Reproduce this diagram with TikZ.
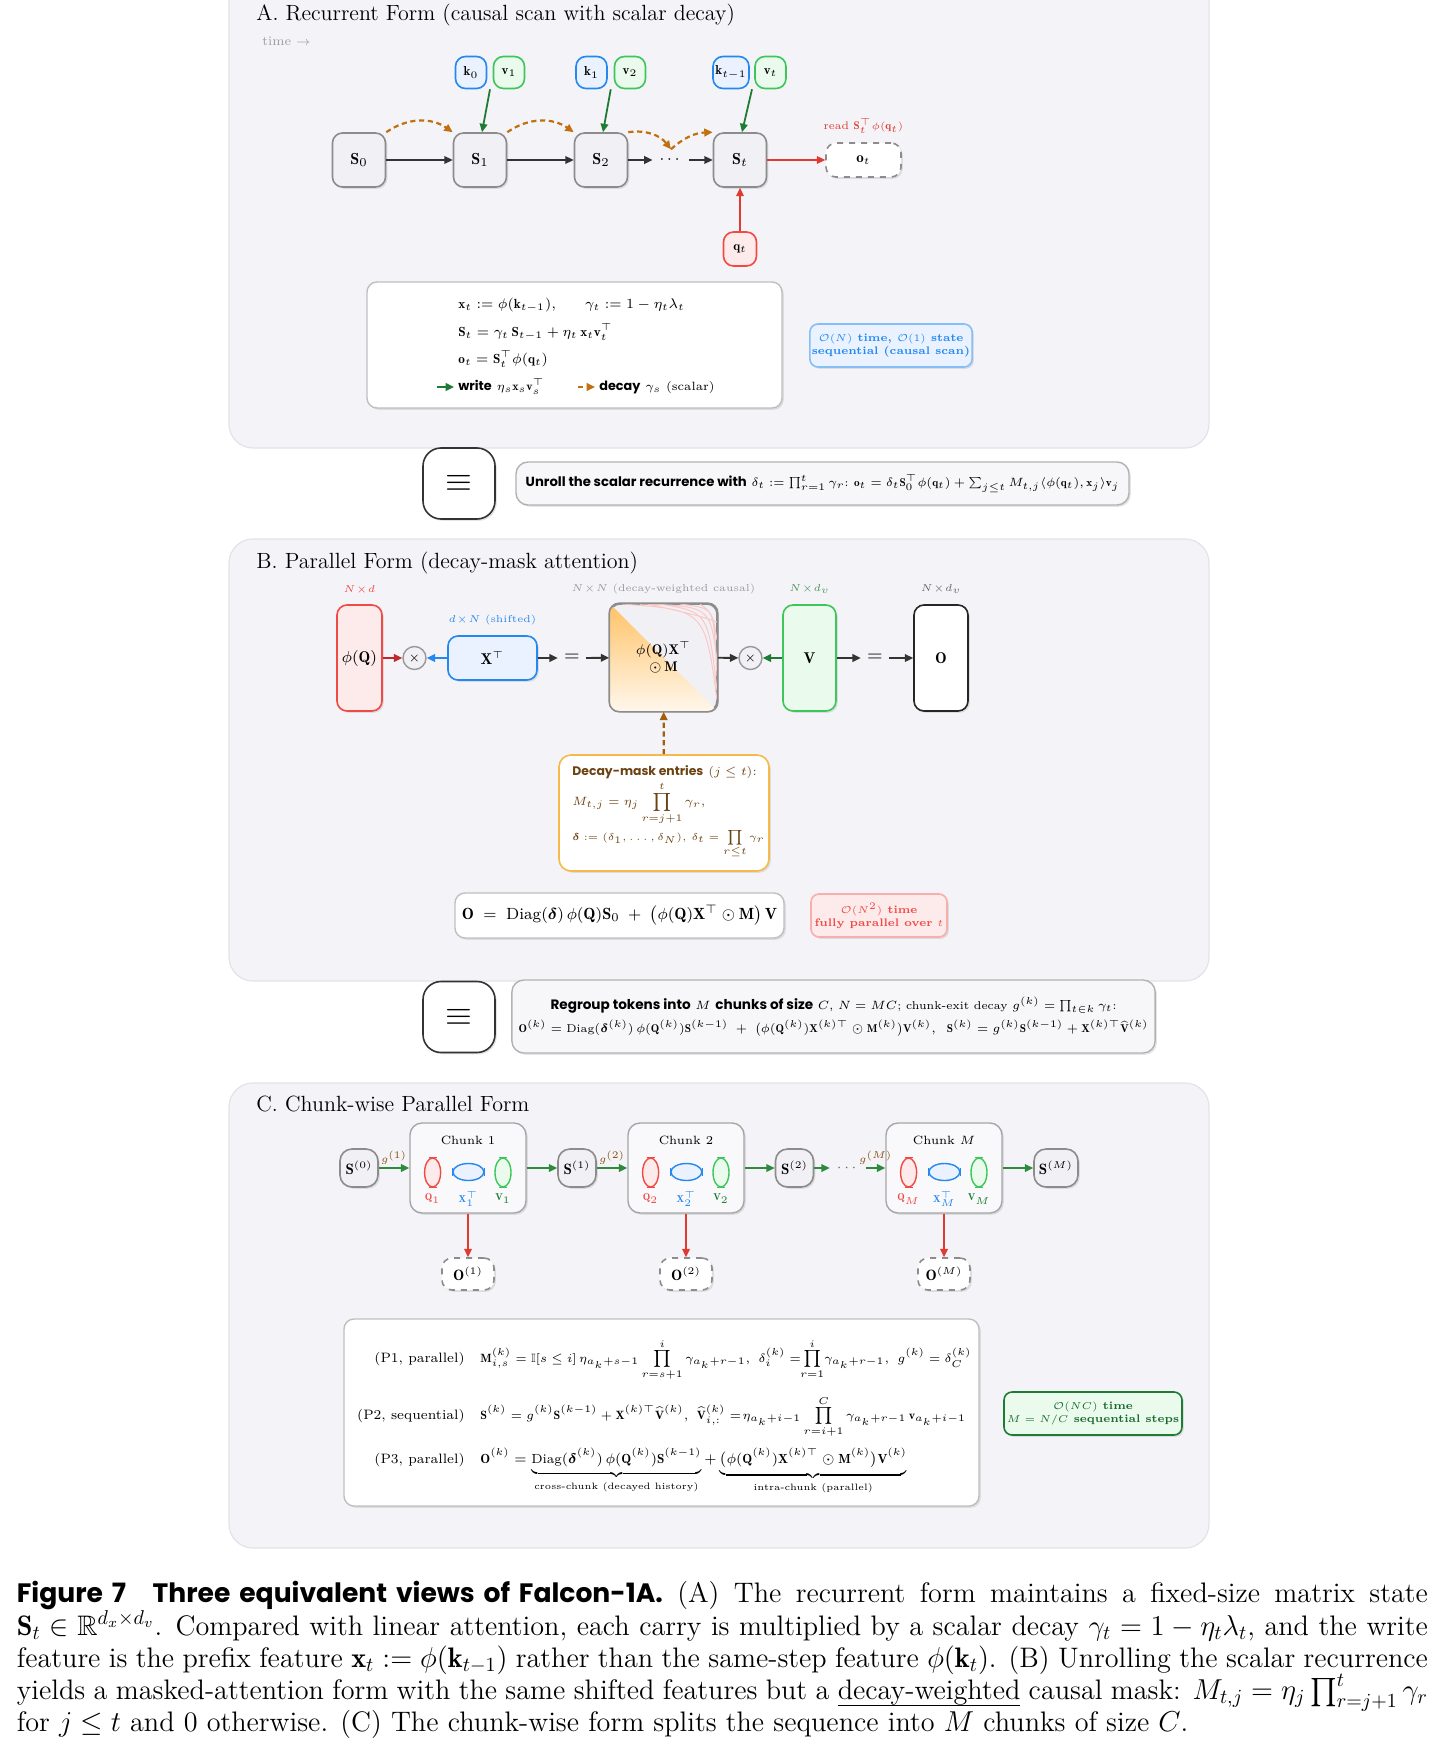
\documentclass[tikz,border=0pt]{standalone}
\usepackage{amsmath}
\usepackage{amssymb}
\usepackage{xcolor}
\usepackage{fontspec}
\newfontfamily\popfont{Poppins}
\usepackage{tikz}
\usetikzlibrary{positioning,calc,shapes.geometric,shadows,arrows.meta}

\definecolor{panelbg}{HTML}{F4F4F8}
\definecolor{panelline}{HTML}{E2E2E9}
\definecolor{stfill}{HTML}{F1F1F5}
\definecolor{stline}{HTML}{8C8C8C}
\definecolor{kblue}{HTML}{2388F0}
\definecolor{kfill}{HTML}{E9F2FE}
\definecolor{vgreen}{HTML}{3DC65A}
\definecolor{vfill}{HTML}{EAFAEC}
\definecolor{qred}{HTML}{F04A45}
\definecolor{qfill}{HTML}{FDEAEA}
\definecolor{wgreen}{HTML}{1E7B34}
\definecolor{ogrn}{HTML}{2E8B3E}
\definecolor{rred}{HTML}{E03B30}
\definecolor{dred}{HTML}{C0282D}
\definecolor{decor}{HTML}{C0700F}
\definecolor{decline}{HTML}{F6B94C}
\definecolor{mbrown}{HTML}{6B4312}
\definecolor{maskor}{HTML}{FFC266}
\definecolor{arrgray}{HTML}{333333}

\newcommand\fsz[2]{\fontsize{#1}{#2}\selectfont}
\newcommand\capfont{\fsz{14.1}{16.15}\lineskiplimit=-20pt\relax}

\begin{document}
\begin{tikzpicture}[x=0.5pt,y=-0.5pt,
  softshadow/.style={drop shadow={opacity=0.2,shadow xshift=0.9pt,shadow yshift=-0.9pt}},
  panel/.style={draw=panelline,fill=panelbg,rounded corners=12pt,line width=0.6pt},
  ttl/.style={anchor=base west,inner sep=0pt,font=\fsz{11}{13}},
  stnode/.style={draw=stline,fill=stfill,rounded corners=5pt,line width=0.8pt,minimum width=26.5pt,minimum height=27pt,inner sep=1pt,font=\fsz{8}{9},softshadow},
  pill/.style={rounded corners=5pt,line width=0.8pt,minimum width=15.5pt,minimum height=16pt,inner sep=1pt,font=\fsz{6.5}{7}},
  keynd/.style={pill,draw=kblue,fill=kfill},
  valnd/.style={pill,draw=vgreen,fill=vfill},
  qnd/.style={pill,draw=qred,fill=qfill,minimum width=16.5pt,minimum height=17pt},
  outnd/.style={draw=black!45,dashed,fill=white,rounded corners=5pt,line width=0.8pt,inner sep=1pt,softshadow},
  arr/.style={-{Triangle[length=4.2pt,width=3.8pt]},line width=0.9pt},
  decayarr/.style={arr,draw=decor,line width=1.1pt,dash pattern=on 2.6pt off 1.8pt},
  eqbox/.style={draw=black!25,fill=white,rounded corners=5pt,line width=0.7pt,softshadow},
  eqtxt/.style={anchor=west,inner sep=0pt,font=\fsz{6.6}{7.5}},
  cplx/.style={rounded corners=4pt,line width=0.8pt,minimum width=81pt,minimum height=21.5pt,align=center,inner sep=1pt,font=\fsz{5.5}{6.4}\bfseries,softshadow},
  equiv/.style={draw=black!80,fill=white,rounded corners=9pt,line width=0.8pt,minimum width=36pt,minimum height=35.5pt,font=\fsz{17}{17},softshadow},
  bridge/.style={draw=black!30,fill=stfill!60,rounded corners=6pt,line width=0.7pt,softshadow,font=\fsz{5.6}{7.5}},
  mat/.style={rounded corners=5pt,line width=0.8pt,inner sep=1pt,font=\fsz{7.8}{9},softshadow},
  mulnd/.style={circle,draw=black!40,fill=stfill,line width=0.7pt,minimum size=11.5pt,inner sep=0pt,font=\fsz{6}{6}},
  eqsign/.style={inner sep=3pt,font=\fsz{10}{10}},
  dimlbl/.style={inner sep=1pt,font=\fsz{5}{6}},
  dbtxt/.style={anchor=base west,inner sep=0pt,text=mbrown,font=\fsz{6.4}{7}},
  cstate/.style={stnode,minimum width=19pt,minimum height=19pt,rounded corners=6pt,font=\fsz{7.5}{8}},
  chunk/.style={draw=black!35,fill=white!60!stfill,rounded corners=6pt,line width=0.7pt,minimum width=58pt,minimum height=45pt,softshadow},
  chunkttl/.style={inner sep=0pt,font=\fsz{6}{7}},
  tens/.style={ellipse,line width=0.7pt,inner sep=0pt},
  tlbl/.style={inner sep=0pt,font=\fsz{5}{6}},
  carr/.style={arr,draw=ogrn},
  gl/.style={above,inner sep=1.5pt,font=\fsz{4.5}{5},text=decor!70!black},
  plbl/.style={anchor=base east,inner sep=0pt,font=\fsz{6.8}{8}},
  peq/.style={anchor=base west,inner sep=0pt,font=\fsz{6}{8}}]

\useasboundingbox (0,0) rectangle (1443,1755);
\fill[white] (0,0) rectangle (1443,1755);

\draw[panel] (229,-30) rectangle (1209,448);
\node[ttl] (ttlA) at (256,21) {A.\ Recurrent Form (causal scan with scalar decay)};
\node[anchor=base west,inner sep=0pt,font=\fsz{6.5}{7},text=black!38] (timeA) at (262,46) {time $\rightarrow$};

\node[stnode] (S0) at (359,160) {$\mathbf{S}_0$};
\node[stnode] (S1) at (480,160) {$\mathbf{S}_1$};
\node[stnode] (S2) at (601,160) {$\mathbf{S}_2$};
\node[font=\fsz{8}{9}] (dA) at (671,160) {$\cdots$};
\node[stnode] (St) at (740,160) {$\mathbf{S}_t$};
\node[outnd,minimum width=37.5pt,minimum height=17pt,font=\fsz{7.5}{8}] (ot) at (863.5,160) {$\mathbf{o}_t$};
\node[above=3pt of ot,inner sep=1pt,font=\fsz{5.5}{6},text=rred] (rdA) {read $\mathbf{S}_t^{\top}\phi(\mathbf{q}_t)$};

\node[keynd] (k0) at (471,72.5) {$\mathbf{k}_0$};
\node[valnd] (v1) at (509,72.5) {$\mathbf{v}_1$};
\node[keynd] (k1) at (591.5,72.5) {$\mathbf{k}_1$};
\node[valnd] (v2) at (630,72.5) {$\mathbf{v}_2$};
\node[keynd,minimum width=18pt] (kt) at (731,72.5) {$\mathbf{k}_{t-1}$};
\node[valnd] (vt) at (770.5,72.5) {$\mathbf{v}_t$};
\node[qnd] (qt) at (740,249) {$\mathbf{q}_t$};

\draw[arr,draw=arrgray] (S0) -- (S1);
\draw[arr,draw=arrgray] (S1) -- (S2);
\draw[arr,draw=arrgray] (S2) -- (dA);
\draw[arr,draw=arrgray] (dA) -- (St);
\draw[arr,draw=rred] (St) -- (ot);
\draw[arr,draw=rred] (qt) -- (St);
\draw[arr,draw=wgreen] ($(k0.south east)!0.5!(v1.south west)$) -- ([xshift=1pt]S1.north);
\draw[arr,draw=wgreen] ($(k1.south east)!0.5!(v2.south west)$) -- ([xshift=1pt]S2.north);
\draw[arr,draw=wgreen] ($(kt.south east)!0.5!(vt.south west)$) -- ([xshift=1pt]St.north);
\draw[decayarr] (S0.north east) to[bend left=35] (S1.north west);
\draw[decayarr] (S1.north east) to[bend left=35] (S2.north west);
\draw[decayarr] (S2.north east) to[bend left=30] (dA.north);
\draw[decayarr] (dA.north) to[bend left=20] (St.north west);

\node[eqbox,minimum width=207.5pt,minimum height=63pt] (eqA) at (574.5,345) {};
\node[eqtxt] (eqA1) at (458,305) {$\mathbf{x}_t := \phi(\mathbf{k}_{t-1}),\qquad \gamma_t := 1-\eta_t\lambda_t$};
\node[eqtxt] (eqA2) at (458,332) {$\mathbf{S}_t = \gamma_t\,\mathbf{S}_{t-1} + \eta_t\,\mathbf{x}_t\mathbf{v}_t^{\top}$};
\node[eqtxt] (eqA3) at (458,359) {$\mathbf{o}_t = \mathbf{S}_t^{\top}\phi(\mathbf{q}_t)$};
\coordinate (lgw0) at (437,387);
\coordinate (lgw1) at (454,387);
\draw[arr,draw=wgreen] (lgw0) -- (lgw1);
\node[eqtxt,font=\fsz{6}{7}] (lgwt) at (458,387) {{\popfont\bfseries\fsz{6.4}{7}write} $\eta_s\mathbf{x}_s\mathbf{v}_s^{\top}$};
\coordinate (lgd0) at (578,387);
\coordinate (lgd1) at (595,387);
\draw[decayarr] (lgd0) -- (lgd1);
\node[eqtxt,font=\fsz{6}{7}] (lgdt) at (599,387) {{\popfont\bfseries\fsz{6.4}{7}decay} $\gamma_s$ (scalar)};

\node[cplx,draw=kblue!55,fill=kfill,text=kblue] (cxA) at (891,345.5) {$\mathcal{O}(N)$ time, $\mathcal{O}(1)$ state\\sequential (causal scan)};

\node[equiv] (eqvA) at (459,483.5) {$\equiv$};
\node[bridge,minimum width=306.5pt,minimum height=21.5pt] (unr) at (822.5,483.5) {{\popfont\bfseries\fsz{6.6}{7.5}Unroll the scalar recurrence with} $\delta_t := \prod_{r=1}^{t}\gamma_r$:\enspace $\mathbf{o}_t = \delta_t\mathbf{S}_0^{\top}\phi(\mathbf{q}_t) + \sum_{j\le t} M_{t,j}\langle\phi(\mathbf{q}_t),\mathbf{x}_j\rangle\mathbf{v}_j$};

\draw[panel] (229,539) rectangle (1209,981);
\node[ttl] (ttlB) at (256,568) {B.\ Parallel Form (decay-mask attention)};

\node[mat,draw=qred,fill=qfill,minimum width=22.5pt,minimum height=53pt] (phiQ) at (359.5,658) {$\phi(\mathbf{Q})$};
\node[mulnd] (mul1) at (414.5,658) {$\times$};
\node[mat,draw=kblue,fill=kfill,minimum width=44.5pt,minimum height=22pt] (XT) at (492.5,658) {$\mathbf{X}^{\top}$};
\node[eqsign] (eq1) at (572,658) {$=$};
\node[mat,draw=black!45,fill=stfill,minimum width=53.5pt,minimum height=53.5pt] (mask) at (663.5,657.5) {};
\begin{scope}
\clip[rounded corners=5pt] (mask.north west) rectangle (mask.south east);
\shade[top color=maskor,bottom color=maskor!12] (mask.north west) -- (mask.south east) -- (mask.south west) -- cycle;
\draw[qred!30,line width=0.5pt] (622,604) .. controls (705,610) .. (717,700)
  (640,604) .. controls (710,606) .. (717,660)
  (660,604) .. controls (708,612) .. (717,690)
  (680,604) .. controls (712,608) .. (717,640)
  (700,604) .. controls (714,614) .. (717,676)
  (648,604) .. controls (700,616) .. (717,622);
\end{scope}
\draw[black!45,line width=0.8pt,rounded corners=5pt] (mask.north west) rectangle (mask.south east);
\node[font=\fsz{7}{8.5},align=center,inner sep=0pt] (maskt) at (mask.center) {$\phi(\mathbf{Q})\mathbf{X}^{\top}$\\$\odot\,\mathbf{M}$};
\node[mulnd] (mul2) at (750.5,658) {$\times$};
\node[mat,draw=vgreen,fill=vfill,minimum width=26.5pt,minimum height=53pt] (Vn) at (809.5,658) {$\mathbf{V}$};
\node[eqsign] (eq2) at (875,658) {$=$};
\node[mat,draw=black!85,fill=white,minimum width=27pt,minimum height=53pt] (On) at (941,658) {$\mathbf{O}$};

\node[dimlbl,text=qred,above=4pt of phiQ] (dQ) {$N\!\times\! d$};
\node[dimlbl,text=kblue,above=4pt of XT] (dX) {$d\!\times\! N$ (shifted)};
\node[dimlbl,text=black!40,above=3.5pt of mask] (dM) {$N\!\times\! N$ (decay-weighted causal)};
\node[dimlbl,text=wgreen!80,above=4pt of Vn] (dV) {$N\!\times\! d_v$};
\node[dimlbl,text=black!60,above=4pt of On] (dO) {$N\!\times\! d_v$};

\draw[arr,draw=dred] (phiQ) -- (mul1);
\draw[arr,draw=kblue] (XT) -- (mul1);
\draw[arr,draw=arrgray] (XT) -- (eq1);
\draw[arr,draw=arrgray] (eq1) -- (mask);
\draw[arr,draw=arrgray] (mask) -- (mul2);
\draw[arr,draw=wgreen] (Vn) -- (mul2);
\draw[arr,draw=arrgray] (Vn) -- (eq2);
\draw[arr,draw=arrgray] (eq2) -- (On);

\node[draw=decline,fill=white,rounded corners=6pt,line width=0.8pt,minimum width=105pt,minimum height=58pt,softshadow] (dbox) at (664,813) {};
\node[dbtxt,font=\fsz{6}{7}] (db1) at (572,775) {{\popfont\bfseries\fsz{6.2}{7}Decay-mask entries} $(j\le t)$:};
\node[dbtxt] (db2) at (572,805) {$M_{t,j} = \eta_j\displaystyle\prod_{r=j+1}^{t}\gamma_r,$};
\node[dbtxt,font=\fsz{5.2}{7}] (db3) at (572,840) {$\boldsymbol{\delta} := (\delta_1,\dots,\delta_N),\,\delta_t = \displaystyle\prod_{r\le t}\gamma_r$};
\draw[decayarr,draw=decor!85!black] (dbox) -- (mask);

\node[eqbox,minimum width=164.5pt,minimum height=22.5pt,font=\fsz{8.1}{10}] (eqB) at (619.5,915.5) {$\mathbf{O}\;=\;\mathrm{Diag}(\boldsymbol{\delta})\,\phi(\mathbf{Q})\mathbf{S}_0\;+\;\bigl(\phi(\mathbf{Q})\mathbf{X}^{\top}\odot\mathbf{M}\bigr)\,\mathbf{V}$};
\node[cplx,draw=qred!45,fill=qfill,text=qred,minimum width=68pt] (cxB) at (879,915.5) {$\mathcal{O}(N^2)$ time\\fully parallel over $t$};

\node[equiv] (eqvB) at (459,1017) {$\equiv$};
\node[bridge,minimum width=318.5pt,minimum height=36.5pt,align=center,font=\fsz{5.65}{8}] (rgp) at (833.5,1016.5) {{\popfont\bfseries\fsz{6.8}{8}Regroup tokens into} $M$ {\popfont\bfseries\fsz{6.8}{8}chunks of size} $C$, $N=MC$; chunk-exit decay $g^{(k)}=\prod_{t\in k}\gamma_t$:\\[2pt] $\mathbf{O}^{(k)}=\mathrm{Diag}(\boldsymbol{\delta}^{(k)})\,\phi(\mathbf{Q}^{(k)})\mathbf{S}^{(k-1)}\;+\;\bigl(\phi(\mathbf{Q}^{(k)})\mathbf{X}^{(k)\top}\odot\mathbf{M}^{(k)}\bigr)\mathbf{V}^{(k)},\;\; \mathbf{S}^{(k)}=g^{(k)}\mathbf{S}^{(k-1)}+\mathbf{X}^{(k)\top}\widehat{\mathbf{V}}^{(k)}$};

\draw[panel] (229,1083) rectangle (1209,1548);
\node[ttl] (ttlC) at (256,1111) {C.\ Chunk-wise Parallel Form};

\node[cstate] (C0) at (359,1168) {$\mathbf{S}^{(0)}$};
\node[chunk] (K1) at (468,1168) {};
\node[chunkttl] (K1t) at (468,1140) {Chunk 1};
\node[tens,draw=qred,fill=qfill,minimum width=8pt,minimum height=14.5pt] (K1q) at (432.6,1172.5) {};
\node[tens,draw=kblue,fill=kfill,minimum width=15.5pt,minimum height=8.5pt] (K1x) at (468.4,1172) {};
\node[tens,draw=vgreen,fill=vfill,minimum width=8pt,minimum height=14.5pt] (K1v) at (503,1172.5) {};
\draw[qred,line width=0.7pt] ([xshift=-2pt]K1q.north) -- ++(4pt,0) ([xshift=-2pt]K1q.south) -- ++(4pt,0);
\draw[kblue,line width=0.7pt] ([yshift=-2pt]K1x.west) -- ++(0,4pt) ([yshift=-2pt]K1x.east) -- ++(0,4pt);
\draw[vgreen,line width=0.7pt] ([xshift=-2pt]K1v.north) -- ++(4pt,0) ([xshift=-2pt]K1v.south) -- ++(4pt,0);
\node[tlbl,text=qred] (K1ql) at (432.6,1199) {$\mathbf{Q}_1$};
\node[tlbl,text=kblue] (K1xl) at (468.4,1199) {$\mathbf{X}_1^{\top}$};
\node[tlbl,text=wgreen] (K1vl) at (503,1199) {$\mathbf{V}_1$};

\node[cstate] (C1) at (577,1168) {$\mathbf{S}^{(1)}$};
\node[chunk] (K2) at (686,1168) {};
\node[chunkttl] (K2t) at (686,1140) {Chunk 2};
\node[tens,draw=qred,fill=qfill,minimum width=8pt,minimum height=14.5pt] (K2q) at (650.6,1172.5) {};
\node[tens,draw=kblue,fill=kfill,minimum width=15.5pt,minimum height=8.5pt] (K2x) at (686.4,1172) {};
\node[tens,draw=vgreen,fill=vfill,minimum width=8pt,minimum height=14.5pt] (K2v) at (721,1172.5) {};
\draw[qred,line width=0.7pt] ([xshift=-2pt]K2q.north) -- ++(4pt,0) ([xshift=-2pt]K2q.south) -- ++(4pt,0);
\draw[kblue,line width=0.7pt] ([yshift=-2pt]K2x.west) -- ++(0,4pt) ([yshift=-2pt]K2x.east) -- ++(0,4pt);
\draw[vgreen,line width=0.7pt] ([xshift=-2pt]K2v.north) -- ++(4pt,0) ([xshift=-2pt]K2v.south) -- ++(4pt,0);
\node[tlbl,text=qred] (K2ql) at (650.6,1199) {$\mathbf{Q}_2$};
\node[tlbl,text=kblue] (K2xl) at (686.4,1199) {$\mathbf{X}_2^{\top}$};
\node[tlbl,text=wgreen] (K2vl) at (721,1199) {$\mathbf{V}_2$};

\node[cstate] (C2) at (794.5,1168) {$\mathbf{S}^{(2)}$};
\node[font=\fsz{7}{8},text=black!60] (dC) at (848,1168) {$\cdots$};
\node[chunk] (KM) at (944,1168) {};
\node[chunkttl] (KMt) at (944,1140) {Chunk $M$};
\node[tens,draw=qred,fill=qfill,minimum width=8pt,minimum height=14.5pt] (KMq) at (908.6,1172.5) {};
\node[tens,draw=kblue,fill=kfill,minimum width=15.5pt,minimum height=8.5pt] (KMx) at (944.4,1172) {};
\node[tens,draw=vgreen,fill=vfill,minimum width=8pt,minimum height=14.5pt] (KMv) at (979,1172.5) {};
\draw[qred,line width=0.7pt] ([xshift=-2pt]KMq.north) -- ++(4pt,0) ([xshift=-2pt]KMq.south) -- ++(4pt,0);
\draw[kblue,line width=0.7pt] ([yshift=-2pt]KMx.west) -- ++(0,4pt) ([yshift=-2pt]KMx.east) -- ++(0,4pt);
\draw[vgreen,line width=0.7pt] ([xshift=-2pt]KMv.north) -- ++(4pt,0) ([xshift=-2pt]KMv.south) -- ++(4pt,0);
\node[tlbl,text=qred] (KMql) at (908.6,1199) {$\mathbf{Q}_M$};
\node[tlbl,text=kblue] (KMxl) at (944.4,1199) {$\mathbf{X}_M^{\top}$};
\node[tlbl,text=wgreen] (KMvl) at (979,1199) {$\mathbf{V}_M$};
\node[cstate,minimum width=22pt] (CM) at (1056,1168) {$\mathbf{S}^{(M)}$};

\draw[carr] (C0) -- node[gl] {$g^{(1)}$} (K1);
\draw[carr] (K1) -- (C1);
\draw[carr] (C1) -- node[gl] {$g^{(2)}$} (K2);
\draw[carr] (K2) -- (C2);
\draw[carr] (C2) -- (dC);
\draw[carr] (dC) -- node[gl] {$g^{(M)}$} (KM);
\draw[carr] (KM) -- (CM);

\node[outnd,minimum width=26pt,minimum height=16pt,font=\fsz{7.5}{8}] (O1) at (468,1274) {$\mathbf{O}^{(1)}$};
\node[outnd,minimum width=26pt,minimum height=16pt,font=\fsz{7.5}{8}] (O2) at (686,1274) {$\mathbf{O}^{(2)}$};
\node[outnd,minimum width=26pt,minimum height=16pt,font=\fsz{7.5}{8}] (OM) at (944,1274) {$\mathbf{O}^{(M)}$};
\draw[arr,draw=rred] (K1) -- (O1);
\draw[arr,draw=rred] (K2) -- (O2);
\draw[arr,draw=rred] (KM) -- (OM);

\node[eqbox,minimum width=317.5pt,minimum height=93.5pt] (eqC) at (661.5,1412.5) {};
\node[plbl] (p1l) at (465,1362) {(P1, parallel)};
\node[peq] (p1e) at (480,1362) {$\displaystyle \mathbf{M}^{(k)}_{i,s} = \mathbb{I}[s\le i]\,\eta_{a_k+s-1}\prod_{r=s+1}^{i}\gamma_{a_k+r-1},\enspace \delta_i^{(k)} =\!\!\prod_{r=1}^{i}\!\gamma_{a_k+r-1},\enspace g^{(k)} = \delta_C^{(k)}$};
\node[plbl] (p2l) at (465,1419) {(P2, sequential)};
\node[peq] (p2e) at (480,1419) {$\displaystyle \mathbf{S}^{(k)} = g^{(k)}\mathbf{S}^{(k-1)} + \mathbf{X}^{(k)\top}\widehat{\mathbf{V}}^{(k)},\enspace \widehat{\mathbf{V}}^{(k)}_{i,:} =\!\eta_{a_k+i-1}\prod_{r=i+1}^{C}\gamma_{a_k+r-1}\,\mathbf{v}_{a_k+i-1}$};
\node[plbl] (p3l) at (465,1463) {(P3, parallel)};
\node[peq,font=\fsz{6.6}{8}] (p3e) at (480,1463) {$\displaystyle \mathbf{O}^{(k)} = \underbrace{\mathrm{Diag}(\boldsymbol{\delta}^{(k)})\,\phi(\mathbf{Q}^{(k)})\mathbf{S}^{(k-1)}}_{\text{cross-chunk (decayed history)}} + \underbrace{\bigl(\phi(\mathbf{Q}^{(k)})\mathbf{X}^{(k)\top}\odot\mathbf{M}^{(k)}\bigr)\mathbf{V}^{(k)}}_{\text{intra-chunk (parallel)}}$};

\node[cplx,draw=wgreen,fill=vfill,text=wgreen!85!black,minimum width=89pt] (cxC) at (1093,1413.5) {$\mathcal{O}(NC)$ time\\$M = N/C$ sequential steps};

\node[anchor=north west,inner sep=0pt,text width=705.5pt,align=justify,font=\capfont] (cap) at (16.5,1581) {{\popfont\bfseries\fsz{13.3}{16.15}Figure 7\quad Three equivalent views of Falcon-1A.} (A) The recurrent form maintains a fixed-size matrix state\linebreak $\mathbf{S}_t\in\mathbb{R}^{d_x\times d_v}$. Compared with linear attention, each carry is multiplied by a scalar decay $\gamma_t = 1-\eta_t\lambda_t$, and the write\linebreak feature is the prefix feature $\mathbf{x}_t := \phi(\mathbf{k}_{t-1})$ rather than the same-step feature $\phi(\mathbf{k}_t)$. (B) Unrolling the scalar recurrence\linebreak yields a masked-attention form with the same shifted features but a \underline{\raisebox{0pt}[\height][1pt]{decay-weighted}} causal mask: $M_{t,j} = \eta_j\prod_{r=j+1}^{t}\gamma_r$\linebreak for $j\le t$ and 0 otherwise. (C) The chunk-wise form splits the sequence into $M$ chunks of size $C$.};
\end{tikzpicture}
\end{document}
